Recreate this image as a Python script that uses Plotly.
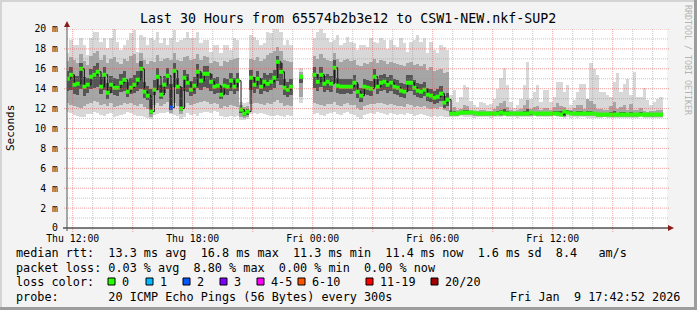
import plotly.graph_objects as go
from datetime import datetime, timedelta

# ---------------- data (ms), one value per 10 minutes ----------------
start_time = datetime(2026, 1, 8, 11, 45)
step_minutes = 10
range_start = "2026-01-08 11:42:52"
range_end = "2026-01-09 17:42:52"

median = [
    15.0, 15.4, 14.4, 14.5, 16.0, 14.2, 14.4, 15.2, 15.4, 15.7,
    14.2, 15.4, 13.6, 14.4, 14.1, 14.1, 14.6, 14.9, 13.7, 14.1,
    14.4, 14.9, 16.0, 13.7, 13.3, 11.7, 13.9, 15.2, 13.4, 14.4,
    15.3, 12.1, 15.8, 14.2, 12.0, 15.1, 14.6, 13.9, 14.3, 15.7,
    14.8, 15.5, 15.5, 14.7, 14.2, 14.3, 13.4, 14.3, 14.2, 14.8,
    14.2, 14.8, 11.9, 11.5, 11.7, 15.1, 14.4, 15.0, 14.2, 14.7,
    14.5, 14.7, 15.1, 16.7, 15.7, 14.1, 13.9, 14.2, None, None,
    15.2, None, None, None, 15.4, 14.7, 15.4, 14.5, 14.7, 14.5,
    16.1, 14.3, 14.2, 14.2, 14.2, 14.2, 14.6, 13.7, 13.3, 14.2,
    14.1, 14.0, 15.2, 14.2, 14.6, 14.7, 14.4, 14.6, 14.2, 14.1,
    13.8, 13.7, 14.6, 14.6, 14.1, 13.8, 13.7, 13.9, 13.4, 13.3,
    13.1, 13.2, 13.5, 12.6, 12.9, 11.5, 11.5, 11.5, 11.6, 11.6,
    11.6, 11.6, 11.6, 11.5, 11.5, 11.5, 11.5, 11.5, 11.5, 11.5,
    11.6, 11.5, 11.5, 11.5, 11.5, 11.5, 11.5, 11.5, 11.5, 11.6,
    11.5, 11.5, 11.5, 11.5, 11.5, 11.5, 11.5, 11.5, 11.4, 11.7,
    11.6, 11.5, 11.5, 11.5, 11.5, 11.5, 11.5, 11.5, 11.5, 11.4,
    11.4, 11.4, 11.4, 11.4, 11.4, 11.4, 11.4, 11.4, 11.4, 11.4,
    11.4, 11.4, 11.4, 11.4, 11.4, 11.4, 11.4, 11.4, 11.4,
]

# pings lost per point (only non-zero ones)
lost_pings = {31: 2}

smoke_max = [
    17.6, 18.9, 18.4, 18.4, 19.1, 18.4, 17.4, 19.1, 19.7, 19.7,
    18.7, 19.1, 18.1, 19.1, 20.0, 18.7, 17.9, 18.4, 18.9, 19.6,
    19.9, 17.7, 19.4, 19.2, 18.4, 19.1, 18.9, 19.7, 18.6, 19.1,
    18.4, 19.1, 19.9, 18.7, 18.9, 19.1, 19.7, 19.1, 19.1, 19.7,
    18.6, 18.9, 18.9, 17.7, 18.4, 18.4, 17.6, 18.4, 18.4, 17.9,
    19.1, 18.9, 12.7, 12.6, 12.7, 19.4, 19.2, 18.9, 18.4, 18.6,
    19.7, 19.6, 20.0, 20.0, 19.7, 18.4, 18.9, 18.4, None, None,
    16.1, None, None, None, 19.1, 19.7, 20.0, 19.6, 19.1, 18.7,
    18.9, 19.4, 18.4, 18.6, 19.2, 18.7, 18.6, 17.9, 18.4, 18.4,
    18.2, 19.1, 18.7, 18.6, 19.1, 18.9, 18.0, 18.9, 18.4, 18.2,
    19.1, 18.6, 17.7, 18.7, 18.9, 19.4, 18.7, 19.1, 17.6, 18.7,
    17.9, 17.6, 18.4, 18.2, 17.9, 13.4, 13.9, 12.7, 13.2, 14.4,
    14.2, 12.8, 12.4, 12.2, 12.7, 12.6, 12.4, 12.5, 13.0, 14.0,
    15.1, 16.1, 14.4, 12.7, 12.1, 12.4, 13.0, 14.4, 16.7, 13.0,
    13.7, 14.4, 12.7, 13.9, 13.9, 12.7, 13.2, 14.7, 14.7, 13.7,
    14.4, 12.4, 12.9, 13.7, 14.5, 14.5, 13.0, 16.6, 16.0, 15.4,
    13.7, 13.7, 13.4, 13.2, 14.7, 15.6, 13.7, 14.5, 15.0, 13.4,
    15.7, 13.2, 13.2, 14.1, 12.9, 12.4, 12.7, 13.0, 13.2,
]

smoke_p90 = [
    16.8, 17.2, 16.9, 16.6, 17.5, 16.8, 16.4, 17.3, 17.6, 17.8,
    16.9, 17.4, 16.6, 17.0, 17.2, 16.7, 16.5, 17.0, 16.8, 17.3,
    17.5, 16.6, 17.6, 16.9, 16.5, 16.8, 16.7, 17.4, 16.8, 17.0,
    17.1, 16.9, 17.6, 16.9, 16.8, 17.2, 17.3, 16.9, 17.0, 17.5,
    16.9, 17.3, 17.2, 16.6, 16.8, 16.7, 16.3, 16.8, 16.7, 16.9,
    17.0, 17.1, 12.4, 12.2, 12.3, 17.0, 16.9, 17.2, 16.8, 17.0,
    17.4, 17.6, 17.8, 18.2, 17.8, 16.9, 16.8, 16.7, None, None,
    15.7, None, None, None, 17.3, 17.0, 17.5, 17.1, 16.9, 16.8,
    17.6, 17.0, 16.7, 16.9, 17.0, 16.8, 16.9, 16.4, 16.3, 16.6,
    16.5, 16.7, 17.0, 16.6, 16.9, 16.8, 16.5, 16.7, 16.6, 16.5,
    16.4, 16.3, 16.6, 16.7, 16.4, 16.5, 16.3, 16.5, 15.9, 16.2,
    15.8, 15.9, 16.0, 15.6, 15.7, 11.9, 12.2, 11.9, 12.0, 12.4,
    12.3, 11.9, 11.8, 11.8, 11.9, 11.9, 11.8, 11.8, 12.0, 12.3,
    12.6, 12.8, 12.2, 11.9, 11.8, 11.9, 12.0, 12.4, 12.9, 12.0,
    12.2, 12.3, 11.9, 12.1, 12.1, 11.9, 12.2, 12.6, 12.3, 12.2,
    11.9, 11.9, 12.1, 12.4, 12.4, 12.0, 13.0, 12.8, 12.5, 12.0,
    12.0, 11.9, 11.9, 12.3, 12.7, 12.0, 12.2, 12.4, 11.9, 12.5,
    11.9, 11.9, 12.1, 11.8, 11.7, 11.8, 11.8, 11.9, 11.9,
]

smoke_p70 = [
    15.8, 16.2, 15.3, 15.3, 16.6, 15.2, 15.1, 16.0, 16.3, 16.6,
    15.2, 16.2, 14.6, 15.3, 15.1, 15.0, 15.5, 15.8, 14.7, 15.1,
    15.4, 15.8, 16.8, 14.7, 14.3, 14.0, 14.9, 16.1, 14.4, 15.3,
    16.1, 14.5, 16.6, 15.1, 14.2, 15.9, 15.5, 14.8, 15.2, 16.5,
    15.6, 16.3, 16.3, 15.5, 15.1, 15.2, 14.3, 15.1, 15.0, 15.6,
    15.1, 15.6, 12.1, 11.8, 12.0, 15.9, 15.2, 15.8, 15.1, 15.6,
    15.4, 15.6, 15.9, 17.3, 16.6, 15.0, 14.7, 15.0, None, None,
    15.4, None, None, None, 16.2, 15.5, 16.2, 15.3, 15.5, 15.3,
    16.9, 15.1, 15.0, 15.0, 15.0, 15.0, 15.4, 14.5, 14.1, 15.0,
    14.9, 14.8, 16.0, 15.0, 15.4, 15.5, 15.2, 15.4, 15.0, 14.9,
    14.6, 14.5, 15.4, 15.4, 14.9, 14.6, 14.5, 14.7, 14.1, 14.0,
    13.8, 14.0, 14.3, 13.3, 13.6, 11.8, 11.8, 11.7, 11.8, 11.9,
    11.9, 11.7, 11.7, 11.7, 11.7, 11.7, 11.7, 11.7, 11.7, 11.8,
    11.9, 12.0, 11.8, 11.7, 11.7, 11.7, 11.7, 11.8, 12.0, 11.7,
    11.7, 11.7, 11.7, 11.7, 11.7, 11.7, 11.8, 11.8, 11.8, 11.8,
    11.9, 11.8, 11.7, 11.8, 11.8, 11.7, 11.8, 11.8, 11.7, 11.6,
    11.6, 11.6, 11.6, 11.7, 11.8, 11.6, 11.7, 11.7, 11.6, 11.7,
    11.6, 11.6, 11.7, 11.6, 11.6, 11.6, 11.6, 11.6, 11.6,
]

smoke_p30 = [
    13.8, 13.9, 13.5, 13.4, 14.0, 13.3, 13.6, 14.0, 14.1, 14.2,
    13.5, 13.9, 13.0, 13.6, 13.4, 13.3, 13.7, 13.8, 13.2, 13.5,
    13.6, 13.8, 14.0, 13.1, 12.9, 11.5, 13.4, 13.9, 13.0, 13.6,
    14.0, 11.9, 14.2, 13.5, 11.8, 13.8, 13.7, 13.3, 13.5, 14.1,
    13.9, 14.2, 14.1, 13.8, 13.5, 13.6, 13.0, 13.5, 13.4, 13.8,
    13.5, 13.8, 11.6, 11.3, 11.4, 13.9, 13.6, 14.0, 13.5, 13.8,
    13.7, 13.9, 14.1, 14.8, 14.4, 13.4, 13.2, 13.4, None, None,
    14.6, None, None, None, 14.1, 13.8, 14.2, 13.7, 13.9, 13.7,
    14.6, 13.6, 13.5, 13.5, 13.6, 13.5, 13.8, 13.1, 12.7, 13.5,
    13.4, 13.3, 14.2, 13.5, 13.8, 13.9, 13.6, 13.8, 13.5, 13.4,
    13.2, 13.1, 13.8, 13.8, 13.4, 13.2, 13.1, 13.3, 12.8, 12.7,
    12.5, 12.6, 12.8, 12.1, 12.3, 11.4, 11.4, 11.4, 11.5, 11.5,
    11.5, 11.5, 11.5, 11.4, 11.4, 11.4, 11.4, 11.4, 11.4, 11.5,
    11.4, 11.4, 11.4, 11.4, 11.4, 11.4, 11.4, 11.4, 11.5, 11.4,
    11.4, 11.4, 11.4, 11.4, 11.4, 11.4, 11.4, 11.4, 11.4, 11.3,
    11.6, 11.5, 11.4, 11.4, 11.4, 11.4, 11.4, 11.4, 11.4, 11.3,
    11.3, 11.3, 11.3, 11.3, 11.3, 11.3, 11.3, 11.3, 11.3, 11.3,
    11.3, 11.3, 11.3, 11.3, 11.3, 11.3, 11.3, 11.3, 11.3,
]

smoke_p10 = [
    12.6, 12.4, 12.3, 12.2, 12.1, 12.3, 12.5, 12.6, 12.8, 12.7,
    12.4, 12.5, 12.3, 12.6, 12.2, 12.3, 12.4, 12.6, 12.5, 12.6,
    12.4, 12.3, 12.5, 12.2, 12.0, 11.2, 12.4, 12.6, 12.3, 12.5,
    12.7, 11.6, 12.6, 12.3, 11.5, 12.2, 12.6, 12.4, 12.5, 12.6,
    12.7, 12.8, 12.7, 12.5, 12.6, 12.5, 12.1, 12.3, 12.2, 12.4,
    12.3, 12.2, 11.2, 11.1, 11.2, 12.5, 12.6, 12.6, 12.5, 12.4,
    12.6, 12.5, 12.7, 12.9, 12.6, 12.3, 12.4, 12.3, None, None,
    13.2, None, None, None, 12.6, 12.5, 12.4, 12.3, 12.5, 12.5,
    12.7, 12.4, 12.3, 12.5, 12.6, 12.4, 12.4, 12.1, 11.9, 12.3,
    12.4, 12.5, 12.5, 12.6, 12.6, 12.5, 12.4, 12.5, 12.4, 12.3,
    12.3, 12.2, 12.5, 12.4, 12.2, 12.3, 12.2, 12.3, 12.1, 12.0,
    12.1, 12.0, 12.2, 11.9, 11.8, 11.3, 11.3, 11.3, 11.4, 11.4,
    11.4, 11.4, 11.3, 11.3, 11.3, 11.3, 11.3, 11.3, 11.3, 11.4,
    11.3, 11.4, 11.3, 11.3, 11.3, 11.3, 11.3, 11.3, 11.3, 11.3,
    11.4, 11.3, 11.3, 11.3, 11.3, 11.3, 11.4, 11.3, 11.3, 11.2,
    11.5, 11.4, 11.3, 11.3, 11.3, 11.3, 11.3, 11.3, 11.3, 11.2,
    11.2, 11.2, 11.2, 11.2, 11.2, 11.2, 11.2, 11.2, 11.2, 11.2,
    11.2, 11.2, 11.3, 11.2, 11.2, 11.2, 11.2, 11.2, 11.2,
]

smoke_min = [
    11.7, 11.6, 11.4, 11.3, 11.2, 11.2, 11.5, 11.5, 11.7, 11.6,
    11.4, 11.3, 11.5, 11.6, 11.2, 11.3, 11.4, 11.5, 11.7, 11.6,
    11.4, 11.3, 11.3, 11.2, 11.1, 11.0, 11.4, 11.5, 11.6, 11.6,
    11.7, 11.5, 11.4, 11.3, 11.0, 11.2, 11.6, 11.4, 11.5, 11.3,
    11.6, 11.7, 11.7, 11.6, 11.8, 11.7, 11.3, 11.2, 11.2, 11.3,
    11.2, 11.3, 10.9, 10.9, 11.0, 11.5, 11.6, 11.5, 11.6, 11.5,
    11.4, 11.3, 11.3, 11.4, 11.3, 11.2, 11.4, 11.3, None, None,
    12.6, None, None, None, 11.5, 11.6, 11.4, 11.3, 11.5, 11.6,
    11.7, 11.5, 11.4, 11.6, 11.7, 11.5, 11.4, 11.2, 11.0, 11.4,
    11.5, 11.6, 11.5, 11.7, 11.6, 11.5, 11.4, 11.6, 11.5, 11.4,
    11.5, 11.4, 11.6, 11.5, 11.3, 11.4, 11.5, 11.4, 11.3, 11.2,
    11.3, 11.2, 11.3, 11.2, 11.2, 11.2, 11.2, 11.2, 11.3, 11.2,
    11.2, 11.2, 11.1, 11.2, 11.2, 11.2, 11.2, 11.1, 11.2, 11.2,
    11.2, 11.3, 11.2, 11.2, 11.2, 11.1, 11.2, 11.2, 11.2, 11.2,
    11.3, 11.2, 11.2, 11.2, 11.2, 11.2, 11.3, 11.2, 11.2, 11.1,
    11.2, 11.1, 11.2, 11.1, 11.2, 11.2, 11.1, 11.1, 11.1, 11.1,
    11.1, 11.2, 11.1, 11.1, 11.1, 11.1, 11.1, 11.1, 11.1, 11.1,
    11.1, 11.1, 11.2, 11.1, 11.1, 11.1, 11.1, 11.1, 11.1,
]

y_label_values = [0, 2, 4, 6, 8, 10, 12, 14, 16, 18, 20]
y_label_text = ["0", "2 m", "4 m", "6 m", "8 m", "10 m", "12 m", "14 m", "16 m", "18 m", "20 m"]
y_minor_values = [1, 3, 5, 7, 9, 11, 13, 15, 17, 19]
x_label_values = ["2026-01-08 12:00", "2026-01-08 18:00", "2026-01-09 00:00",
                  "2026-01-09 06:00", "2026-01-09 12:00"]
x_label_text = ["Thu 12:00", "Thu 18:00", "Fri 00:00", "Fri 06:00", "Fri 12:00"]
x_major_grid = ["2026-01-08 12:00", "2026-01-08 15:00", "2026-01-08 18:00", "2026-01-08 21:00",
                "2026-01-09 00:00", "2026-01-09 03:00", "2026-01-09 06:00", "2026-01-09 09:00",
                "2026-01-09 12:00", "2026-01-09 15:00"]
x_minor_grid = ["2026-01-08 13:00", "2026-01-08 14:00", "2026-01-08 16:00", "2026-01-08 17:00",
                "2026-01-08 19:00", "2026-01-08 20:00", "2026-01-08 22:00", "2026-01-08 23:00",
                "2026-01-09 01:00", "2026-01-09 02:00", "2026-01-09 04:00", "2026-01-09 05:00",
                "2026-01-09 07:00", "2026-01-09 08:00", "2026-01-09 10:00", "2026-01-09 11:00",
                "2026-01-09 13:00", "2026-01-09 14:00", "2026-01-09 16:00", "2026-01-09 17:00"]

title_text = "Last 30 Hours from 65574b2b3e12 to CSW1-NEW.nkf-SUP2"
legend_line1 = "median rtt:  13.3 ms avg  16.8 ms max  11.3 ms min  11.4 ms now  1.6 ms sd  8.4   am/s"
legend_line2 = "packet loss: 0.03 % avg  8.80 % max  0.00 % min  0.00 % now"
legend_line3_label = "loss color:"
loss_labels = ["0", "1", "2", "3", "4-5", "6-10", "11-19", "20/20"]
loss_colors = ["#26ff00", "#00b8ff", "#0059ff", "#7e00ff", "#ff00ff", "#ff5500", "#ff0000", "#a10000"]
legend_line4 = "probe:       20 ICMP Echo Pings (56 Bytes) every 300s"
date_text = "Fri Jan  9 17:42:52 2026"
side_text = "RRDTOOL / TOBI OETIKER"

n = len(median)
for name, arr in [("max", smoke_max), ("p90", smoke_p90), ("p70", smoke_p70),
                  ("p30", smoke_p30), ("p10", smoke_p10), ("min", smoke_min)]:
    assert len(arr) == n, f"{name}: {len(arr)} vs {n}"

times = [start_time + timedelta(minutes=step_minutes * i) for i in range(n)]

# ---------------- layout geometry ----------------
W, H = 697, 310
ML, MR, MT, MB = 67, 30, 29, 82
PW, PH = W - ML - MR, H - MT - MB
MONO = "DejaVu Sans Mono"


def px(xp):
    return (xp - ML) / PW


def py(yp):
    return (H - MB - yp) / PH


def band(lo, hi, color):
    xs, base, h = [], [], []
    for t, a, b in zip(times, lo, hi):
        if a is None or b is None:
            continue
        xs.append(t)
        base.append(a)
        h.append(b - a)
    return go.Bar(x=xs, y=h, base=base, width=step_minutes * 60000,
                  marker=dict(color=color, line=dict(width=0)),
                  hoverinfo="skip", showlegend=False)


fig = go.Figure()
fig.add_trace(band(smoke_min, smoke_max, "#d8d8d8"))
fig.add_trace(band(smoke_p10, smoke_p90, "#a6a6a6"))
fig.add_trace(band(smoke_p30, smoke_p70, "#555555"))

fig.add_trace(go.Scatter(x=times, y=median, mode="lines", connectgaps=False,
                         line=dict(color="#111111", width=1, shape="hv"),
                         hoverinfo="skip", showlegend=False))
point_colors = [loss_colors[2] if lost_pings.get(i, 0) == 2 else loss_colors[0] for i in range(n)]
fig.add_trace(go.Scatter(x=times, y=median, mode="markers",
                         marker=dict(symbol="square", size=4, color=point_colors, line=dict(width=0)),
                         hoverinfo="skip", showlegend=False))

shapes = []
# grid (drawn above the smoke like rrdtool)
minor_col = "rgba(150,150,150,0.55)"
major_col = "rgba(230,80,80,0.55)"
for v in y_minor_values:
    shapes.append(dict(type="line", xref="paper", yref="y", x0=0, x1=1.003, y0=v, y1=v,
                       line=dict(color=minor_col, width=1, dash="1px,1px"), layer="above"))
for v in y_label_values[1:]:
    shapes.append(dict(type="line", xref="paper", yref="y", x0=-0.005, x1=1.005, y0=v, y1=v,
                       line=dict(color=major_col, width=1, dash="1px,1px"), layer="above"))
for v in x_minor_grid:
    shapes.append(dict(type="line", xref="x", yref="paper", x0=v, x1=v, y0=-0.01, y1=1,
                       line=dict(color=minor_col, width=1, dash="1px,1px"), layer="above"))
for v in x_major_grid:
    shapes.append(dict(type="line", xref="x", yref="paper", x0=v, x1=v, y0=-0.02, y1=1,
                       line=dict(color=major_col, width=1, dash="1px,1px"), layer="above"))

# axes with arrows
shapes.append(dict(type="line", xref="paper", yref="paper", x0=px(63), x1=px(669), y0=0, y1=0,
                   line=dict(color="#000000", width=1), layer="above"))
shapes.append(dict(type="line", xref="paper", yref="paper", x0=0, x1=0, y0=py(231), y1=py(26),
                   line=dict(color="#555555", width=1), layer="above"))
shapes.append(dict(type="path", xref="paper", yref="paper",
                   path=f"M {px(668)} {py(225)} L {px(674)} {py(228)} L {px(668)} {py(231)} Z",
                   fillcolor="#8b1a1a", line=dict(width=0), layer="above"))
shapes.append(dict(type="path", xref="paper", yref="paper",
                   path=f"M {px(64)} {py(27)} L {px(67)} {py(21)} L {px(70)} {py(27)} Z",
                   fillcolor="#8b1a1a", line=dict(width=0), layer="above"))

# image frame
shapes.append(dict(type="rect", xref="paper", yref="paper", x0=px(0), x1=px(697), y0=py(0), y1=py(2),
                   fillcolor="#d4d4d4", line=dict(width=0)))
shapes.append(dict(type="rect", xref="paper", yref="paper", x0=px(0), x1=px(2), y0=py(0), y1=py(310),
                   fillcolor="#d4d4d4", line=dict(width=0)))
shapes.append(dict(type="rect", xref="paper", yref="paper", x0=px(694), x1=px(697), y0=py(0), y1=py(310),
                   fillcolor="#9c9c9c", line=dict(width=0)))
shapes.append(dict(type="rect", xref="paper", yref="paper", x0=px(0), x1=px(697), y0=py(307), y1=py(310),
                   fillcolor="#9c9c9c", line=dict(width=0)))

# loss colour boxes
box_x = [108, 146, 183, 220, 257, 298, 366, 431]
label_x = [121, 159, 196, 233, 270, 311, 379, 444]
for bx, col in zip(box_x, loss_colors):
    shapes.append(dict(type="rect", xref="paper", yref="paper",
                       x0=px(bx), x1=px(bx + 7), y0=py(285), y1=py(278),
                       fillcolor=col, line=dict(color="#000000", width=1)))

annotations = []


def text(s, x, y, size, anchor="left", color="#000000", angle=0):
    annotations.append(dict(text=s, xref="paper", yref="paper", x=px(x), y=py(y),
                            xanchor=anchor, yanchor="middle", showarrow=False, borderpad=0,
                            textangle=angle, font=dict(family=MONO, size=size, color=color)))


def pre(s):
    return s.replace(" ", "&nbsp;")


text(pre(title_text), 348, 18, 13.3, anchor="center")
text("Seconds", 10, 128, 11, anchor="center", angle=-90)
text(pre(side_text), 688, 60, 8.3, anchor="center", color="#b4b4b4", angle=90)
text(pre(legend_line1), 15, 253, 11.8)
text(pre(legend_line2), 15, 267.5, 11.8)
text(legend_line3_label, 15, 282, 11.8)
for lx, lab in zip(label_x, loss_labels):
    text(lab, lx, 282, 11.8)
text(pre(legend_line4), 15, 296.5, 11.8)
text(pre(date_text), 681, 296.5, 11.8, anchor="right")

fig.update_layout(
    width=W, height=H, autosize=False,
    margin=dict(l=ML, r=MR, t=MT, b=MB, pad=0),
    paper_bgcolor="#f3f3f3", plot_bgcolor="#ffffff",
    barmode="overlay", bargap=0,
    showlegend=False,
    shapes=shapes, annotations=annotations,
    xaxis=dict(type="date", range=[range_start, range_end], showgrid=False, zeroline=False,
               showline=False, tickmode="array", tickvals=x_label_values, ticktext=x_label_text,
               ticks="", ticklabelstandoff=3,
               tickfont=dict(family=MONO, size=9.8, color="#000000")),
    yaxis=dict(range=[0, 20], showgrid=False, zeroline=False, showline=False,
               tickmode="array", tickvals=y_label_values, ticktext=y_label_text,
               ticks="", ticklabelstandoff=8,
               tickfont=dict(family=MONO, size=9.8, color="#000000")),
)

fig.write_html("out.html")
